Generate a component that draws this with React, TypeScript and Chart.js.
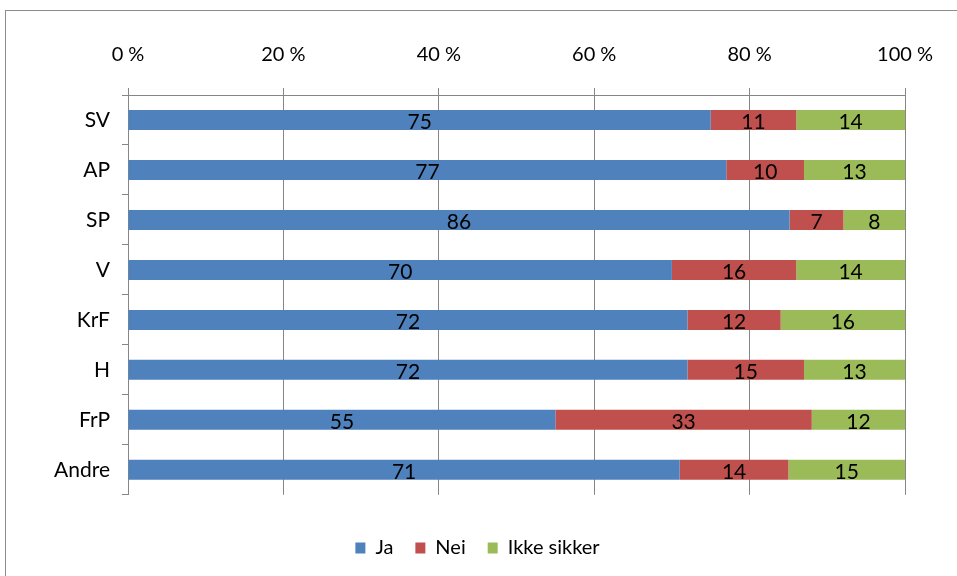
import React, { useEffect, useRef } from "react";
import { Chart, registerables } from "chart.js";

Chart.register(...registerables);

const categories = ["SV", "AP", "SP", "V", "KrF", "H", "FrP", "Andre"];
const jaValues = [75, 77, 86, 70, 72, 72, 55, 71];
const neiValues = [11, 10, 7, 16, 12, 15, 33, 14];
const ikkeSikkerValues = [14, 13, 8, 14, 16, 13, 12, 15];
const seriesNames = ["Ja", "Nei", "Ikke sikker"];
const seriesColors = ["#4F81BD", "#C0504D", "#9BBB59"];
const xTicks = [0, 20, 40, 60, 80, 100];

const SANS = 'Lato, "Noto Sans", Arial, sans-serif';

const raw = [jaValues, neiValues, ikkeSikkerValues];
const totals = categories.map((_, i) => raw.reduce((s, arr) => s + arr[i], 0));

const frame = {
  id: "frame",
  beforeDraw(chart: any) {
    const ctx = chart.ctx;
    ctx.save();
    ctx.fillStyle = "#ffffff";
    ctx.fillRect(0, 0, chart.width, chart.height);
    ctx.strokeStyle = "#8c8c8c";
    ctx.lineWidth = 1;
    ctx.strokeRect(5.5, 10.5, chart.width + 20, chart.height + 20);
    ctx.restore();
  },
};

const legendShift = {
  id: "legendShift",
  afterLayout(chart: any) {
    const lg = chart.legend;
    if (lg) {
      lg.left += 25;
      lg.right += 25;
    }
  },
};

const valueLabels = {
  id: "valueLabels",
  afterDatasetsDraw(chart: any) {
    const ctx = chart.ctx;
    ctx.save();
    ctx.font = `21px ${SANS}`;
    ctx.fillStyle = "#000000";
    ctx.textAlign = "center";
    ctx.textBaseline = "middle";
    chart.data.datasets.forEach((ds: any, di: number) => {
      const meta = chart.getDatasetMeta(di);
      meta.data.forEach((el: any, i: number) => {
        const cx = (el.x + el.base) / 2;
        ctx.fillText(String(ds.rawValues[i]), cx, el.y + 2);
      });
    });
    ctx.restore();
  },
};

export default function App() {
  const ref = useRef<HTMLCanvasElement | null>(null);
  useEffect(() => {
    if (!ref.current) return;
    const chart = new Chart(ref.current, {
      type: "bar",
      data: {
        labels: categories,
        datasets: raw.map((arr, k) => ({
          label: seriesNames[k],
          data: arr.map((v, i) => (v / totals[i]) * 100),
          rawValues: arr,
          backgroundColor: seriesColors[k],
          borderWidth: 0,
          categoryPercentage: 1,
          barPercentage: 0.4,
        })) as any,
      },
      options: {
        indexAxis: "y",
        animation: false,
        responsive: false,
        maintainAspectRatio: false,
        layout: { padding: { left: 0, top: 0, right: 52, bottom: 8 } },
        scales: {
          x: {
            position: "top",
            stacked: true,
            min: 0,
            max: 100,
            afterBuildTicks: (scale: any) => {
              scale.ticks = xTicks.map((v) => ({ value: v }));
            },
            afterFit: (scale: any) => {
              scale.height = 95;
            },
            ticks: {
              callback: (v: any) => `${v} %`,
              font: { family: SANS, size: 20 },
              color: "#000000",
              padding: 21,
              maxRotation: 0,
            },
            grid: { color: "#868686", tickLength: 7 },
            border: { color: "#868686" },
          },
          y: {
            stacked: true,
            afterFit: (scale: any) => {
              scale.width = 128;
            },
            ticks: {
              font: { family: SANS, size: 21 },
              color: "#000000",
              padding: 12,
            },
            grid: { drawOnChartArea: false, color: "#868686", tickLength: 6, offset: true },
            border: { color: "#868686" },
          },
        },
        plugins: {
          legend: {
            position: "bottom",
            title: { display: true, text: "", font: { size: 1 }, padding: { top: 20, bottom: 0 } },
            labels: {
              boxWidth: 10,
              boxHeight: 11,
              padding: 22,
              color: "#000000",
              font: { family: SANS, size: 20 },
            },
          },
          tooltip: { enabled: false },
        },
      },
      plugins: [frame, legendShift, valueLabels],
    });
    return () => chart.destroy();
  }, []);
  return (
    <div style={{ position: "fixed", left: 0, top: 0, width: 957, height: 576, overflow: "hidden" }}>
      <canvas ref={ref} width={957} height={576} style={{ width: 957, height: 576, display: "block" }} />
    </div>
  );
}
